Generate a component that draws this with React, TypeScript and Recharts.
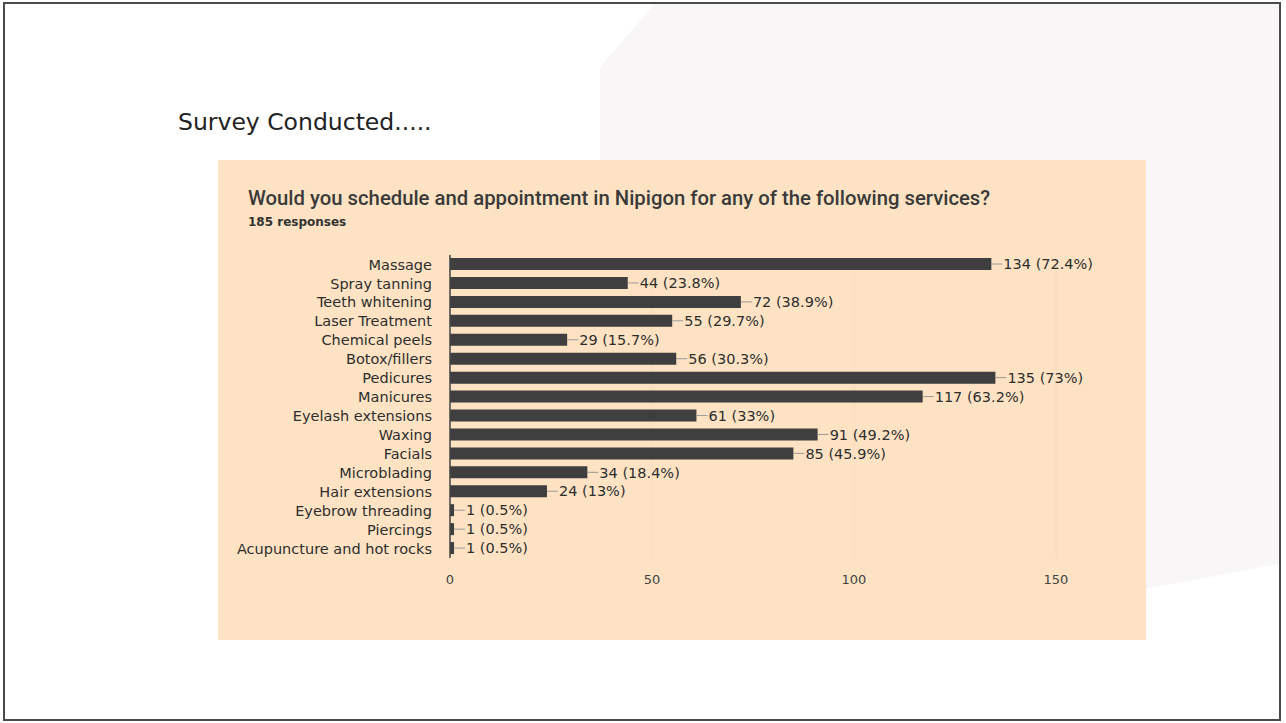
import React from 'react';
import { BarChart, Bar, XAxis, YAxis, CartesianGrid, LabelList } from 'recharts';

const services = [
  'Massage',
  'Spray tanning',
  'Teeth whitening',
  'Laser Treatment',
  'Chemical peels',
  'Botox/fillers',
  'Pedicures',
  'Manicures',
  'Eyelash extensions',
  'Waxing',
  'Facials',
  'Microblading',
  'Hair extensions',
  'Eyebrow threading',
  'Piercings',
  'Acupuncture and hot rocks',
];

const responses = [134, 44, 72, 55, 29, 56, 135, 117, 61, 91, 85, 34, 24, 1, 1, 1];

const percents = [
  '72.4%', '23.8%', '38.9%', '29.7%', '15.7%', '30.3%', '73%', '63.2%',
  '33%', '49.2%', '45.9%', '18.4%', '13%', '0.5%', '0.5%', '0.5%',
];

const xTicks = [0, 50, 100, 150];

const data = services.map((name, i) => ({
  name,
  count: responses[i],
  label: `${responses[i]} (${percents[i]})`,
}));

const labelFont = "'DejaVu Sans', Arial, sans-serif";

const BarLabel = (props: any) => {
  const { x, y, width, height, value } = props;
  const endX = x + width;
  const midY = y + height / 2;
  return (
    <g>
      <line x1={endX} y1={midY} x2={endX + 11} y2={midY} stroke="#9a9a9a" strokeWidth={1} />
      <text x={endX + 12} y={midY} dy="0.36em" fontSize={14.5} fontFamily={labelFont} fill="#2e2e2e">
        {value}
      </text>
    </g>
  );
};

const App = () => {
  return (
    <div
      style={{
        position: 'fixed',
        left: 0,
        top: 0,
        width: 1286,
        height: 723,
        background: '#fff',
        overflow: 'hidden',
      }}
    >
      {/* faint background shape of the slide */}
      <div
        style={{
          position: 'absolute',
          left: 600,
          top: 4,
          width: 680,
          height: 636,
          background: '#f8f6f7',
          clipPath: 'polygon(8% 0, 100% 0, 100% 88%, 60% 96%, 0 100%, 0 10%)',
        }}
      />
      {/* slide frame */}
      <div
        style={{
          position: 'absolute',
          left: 3,
          top: 2,
          width: 1274,
          height: 715,
          border: '2px solid #4a4a4a',
        }}
      />
      <div
        style={{
          position: 'absolute',
          left: 178,
          top: 108,
          fontFamily: "'DejaVu Sans', sans-serif",
          fontSize: 23.5,
          color: '#222',
          whiteSpace: 'nowrap',
        }}
      >
        Survey Conducted.....
      </div>

      <div
        style={{
          position: 'absolute',
          left: 218,
          top: 160,
          width: 928,
          height: 480,
          background: '#fde3c4',
        }}
      >
        <div
          style={{
            position: 'absolute',
            left: 30,
            top: 26,
            fontFamily: 'Roboto, Arial, sans-serif',
            fontWeight: 500,
            fontSize: 20.3,
            color: '#3a3a3a',
            whiteSpace: 'nowrap',
          }}
        >
          Would you schedule and appointment in Nipigon for any of the following services?
        </div>
        <div
          style={{
            position: 'absolute',
            left: 30,
            top: 55,
            fontFamily: labelFont,
            fontWeight: 700,
            fontSize: 12,
            color: '#333',
            whiteSpace: 'nowrap',
          }}
        >
          185 responses
        </div>

        <div style={{ position: 'absolute', left: 0, top: 0 }}>
          <BarChart
            width={928}
            height={480}
            data={data}
            layout="vertical"
            margin={{ top: 95, right: 90, bottom: 52, left: 0 }}
            barSize={12}
          >
            <CartesianGrid horizontal={false} stroke="#f6dcbc" />
            <XAxis
              type="number"
              domain={[0, 150]}
              ticks={xTicks}
              axisLine={false}
              tickLine={false}
              tickSize={0}
              tickMargin={17}
              height={30}
              tick={{ fontSize: 13, fill: '#444', fontFamily: labelFont }}
            />
            <YAxis
              type="category"
              dataKey="name"
              width={232}
              interval={0}
              axisLine={{ stroke: '#444', strokeWidth: 1.5 }}
              tickLine={false}
              tickSize={0}
              tickMargin={18}
              tick={{ fontSize: 14.5, fill: '#2e2e2e', fontFamily: labelFont }}
            />
            <Bar dataKey="count" fill="#3f3f3f" isAnimationActive={false}>
              <LabelList dataKey="label" content={BarLabel} />
            </Bar>
          </BarChart>
        </div>
      </div>
    </div>
  );
};

export default App;
